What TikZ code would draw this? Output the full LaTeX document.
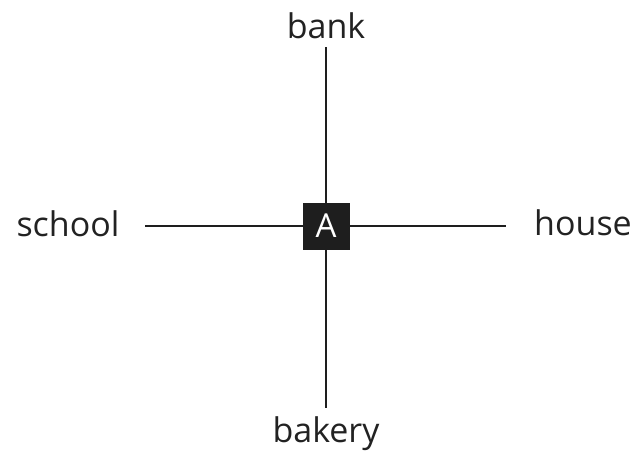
\documentclass[tikz,border=0pt]{standalone}
\usepackage{fontspec}
\setmainfont{Open Sans}
\definecolor{ink}{HTML}{1E1E1E}
\definecolor{txt}{HTML}{222222}
\tikzset{
  lbl/.style={text=txt, font=\fontsize{34}{40}\selectfont, inner sep=0pt, anchor=base},
  road/.style={draw=ink, line width=2.6pt},
  centre/.style={fill=ink, text=white, minimum size=47pt, inner sep=0pt, font=\fontsize{33}{38}\selectfont}
}
\begin{document}
\begin{tikzpicture}[x=1pt,y=-1pt]
\useasboundingbox (0,0) rectangle (637,456);
\node[lbl] (bank) at (326,38) {bank};
\node[lbl] (bakery) at (326,442) {bakery};
\node[lbl] (school) at (68,236) {school};
\node[lbl] (house) at (583,235) {house};
\coordinate (n) at (326,47);
\coordinate (s) at (326,408);
\coordinate (w) at (145,226);
\coordinate (e) at (506,226);
\draw[road] (n) -- (s);
\draw[road] (w) -- (e);
\node[centre] (A) at (326,226) {A};
\end{tikzpicture}
\end{document}
